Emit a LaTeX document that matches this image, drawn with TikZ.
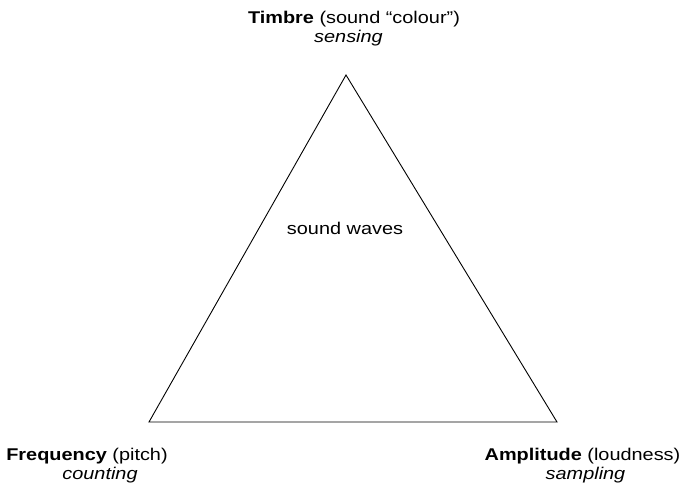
\documentclass[tikz,border=0pt]{standalone}
\usepackage{fontspec}
\setmainfont[FakeStretch=1.17]{Liberation Sans}
\begin{document}
\begin{tikzpicture}[x=1pt,y=-1pt,
  lbl/.style={anchor=base,font=\fontsize{17}{18}\selectfont,inner sep=0pt},
  edge/.style={draw=black,line width=0.9pt,line join=miter}]
\useasboundingbox (0,0) rectangle (683,488);
\coordinate (T) at (346,75);
\coordinate (L) at (149,422);
\coordinate (R) at (557,422);
\draw[edge] (T) -- (L) -- (R) -- cycle;
\node[lbl] (top) at (354,23) {\textbf{Timbre} (sound “colour”)};
\node[lbl] (topsub) at (348.5,42) {\textit{sensing}};
\node[lbl] (mid) at (345,234) {sound waves};
\node[lbl] (left) at (87,460) {\textbf{Frequency} (pitch)};
\node[lbl] (leftsub) at (100,479) {\textit{counting}};
\node[lbl] (right) at (582.5,460) {\textbf{Amplitude} (loudness)};
\node[lbl] (rightsub) at (585.5,479) {\textit{sampling}};
\end{tikzpicture}
\end{document}
